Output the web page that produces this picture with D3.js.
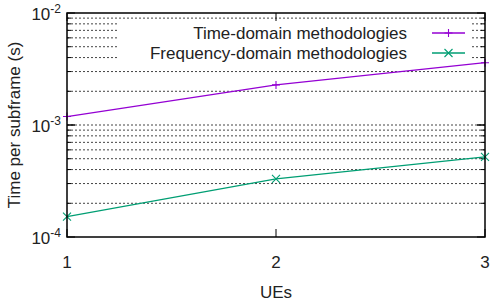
<!DOCTYPE html>
<html>
<head>
<script src="https://cdnjs.cloudflare.com/ajax/libs/d3/7.8.5/d3.min.js"></script>
<style>
  body { margin: 0; background: #fff; }
  text { font-family: "Liberation Sans", Arial, sans-serif; fill: #222; }
</style>
</head>
<body>
<svg id="chart" width="497" height="305"></svg>
<script>
  const ues = [1, 2, 3];
  const timeDomain = [1.19e-3, 2.28e-3, 3.6e-3];
  const freqDomain = [1.52e-4, 3.3e-4, 5.2e-4];
  const seriesNames = ["Time-domain methodologies", "Frequency-domain methodologies"];
  const seriesColors = ["#9400d3", "#009e73"];
  const yMajor = [1e-4, 1e-3, 1e-2];
  const yTickExp = ["-4", "-3", "-2"];

  const svg = d3.select("#chart");
  const m = {left: 67, right: 485, top: 13, bottom: 237};

  const x = d3.scaleLinear().domain([1, 3]).range([m.left, m.right]);
  const y = d3.scaleLog().domain([1e-4, 1e-2]).range([m.bottom, m.top]);

  // minor + major grid values
  var gridVals = [];
  [1e-4, 1e-3].forEach(b => d3.range(1, 10).forEach(k => gridVals.push(b * k)));
  gridVals = gridVals.filter(v => v > 1e-4);

  // legend box region (grid hidden behind it)
  const leg = {x0: 117, x1: 472, y0: 21, y1: 65};

  const grid = svg.append("g");
  gridVals.forEach(v => {
    const yy = y(v);
    const segs = (yy > leg.y0 && yy < leg.y1) ? [[m.left, leg.x0], [leg.x1, m.right]] : [[m.left, m.right]];
    segs.forEach(s => {
      grid.append("line")
        .attr("x1", s[0]).attr("x2", s[1])
        .attr("y1", yy).attr("y2", yy)
        .attr("stroke", "#444").attr("stroke-width", 1)
        .attr("stroke-dasharray", "2,2");
    });
  });

  // tick marks
  const ticks = svg.append("g").attr("stroke", "#000").attr("stroke-width", 1);
  gridVals.concat(yMajor).forEach(v => {
    const major = yMajor.includes(v);
    const len = major ? 8 : 4;
    ticks.append("line").attr("x1", m.left).attr("x2", m.left + len).attr("y1", y(v)).attr("y2", y(v));
    ticks.append("line").attr("x1", m.right).attr("x2", m.right - len).attr("y1", y(v)).attr("y2", y(v));
  });
  ues.forEach(u => {
    ticks.append("line").attr("x1", x(u)).attr("x2", x(u)).attr("y1", m.bottom).attr("y2", m.bottom - 8);
    ticks.append("line").attr("x1", x(u)).attr("x2", x(u)).attr("y1", m.top).attr("y2", m.top + 8);
  });

  // series
  const line = d3.line().x((d, i) => x(ues[i])).y(d => y(d));
  [timeDomain, freqDomain].forEach((s, k) => {
    svg.append("path").attr("d", line(s))
      .attr("fill", "none").attr("stroke", seriesColors[k]).attr("stroke-width", 1.3);
  });

  const mk = 4;
  function marker(g, cx, cy, k) {
    const p = k === 0
      ? `M${cx - mk},${cy}H${cx + mk}M${cx},${cy - mk}V${cy + mk}`
      : `M${cx - mk},${cy - mk}L${cx + mk},${cy + mk}M${cx - mk},${cy + mk}L${cx + mk},${cy - mk}`;
    g.append("path").attr("d", p).attr("stroke", seriesColors[k]).attr("stroke-width", 1.1).attr("fill", "none");
  }
  const marks = svg.append("g");
  timeDomain.forEach((d, i) => marker(marks, x(ues[i]), y(d), 0));
  freqDomain.forEach((d, i) => marker(marks, x(ues[i]), y(d), 1));

  // legend
  const legY = [33, 53];
  seriesNames.forEach((n, k) => {
    svg.append("text").attr("x", 407).attr("y", legY[k]).attr("dy", "0.35em")
      .attr("text-anchor", "end").attr("font-size", 17).text(n);
    svg.append("line").attr("x1", 432).attr("x2", 465).attr("y1", legY[k]).attr("y2", legY[k])
      .attr("stroke", seriesColors[k]).attr("stroke-width", 1.3);
    marker(svg, 448.5, legY[k], k);
  });

  // border
  svg.append("rect").attr("x", m.left).attr("y", m.top)
    .attr("width", m.right - m.left).attr("height", m.bottom - m.top)
    .attr("fill", "none").attr("stroke", "#000").attr("stroke-width", 1.5);

  // y tick labels
  yMajor.forEach((v, i) => {
    const t = svg.append("text").attr("x", 61).attr("y", y(v)).attr("dy", "0.4em")
      .attr("text-anchor", "end").attr("font-size", 17);
    t.append("tspan").text("10");
    t.append("tspan").attr("font-size", 12).attr("dy", "-0.6em").text(yTickExp[i]);
  });

  // x tick labels
  ues.forEach(u => {
    svg.append("text").attr("x", x(u)).attr("y", 262).attr("dy", "0.35em")
      .attr("text-anchor", "middle").attr("font-size", 17).text(u);
  });

  svg.append("text").attr("x", 276).attr("y", 292).attr("dy", "0.35em")
    .attr("text-anchor", "middle").attr("font-size", 17).text("UEs");

  svg.append("text").attr("transform", "translate(14,125) rotate(-90)")
    .attr("dy", "0.35em").attr("text-anchor", "middle").attr("font-size", 17)
    .text("Time per subframe (s)");
</script>
</body>
</html>
